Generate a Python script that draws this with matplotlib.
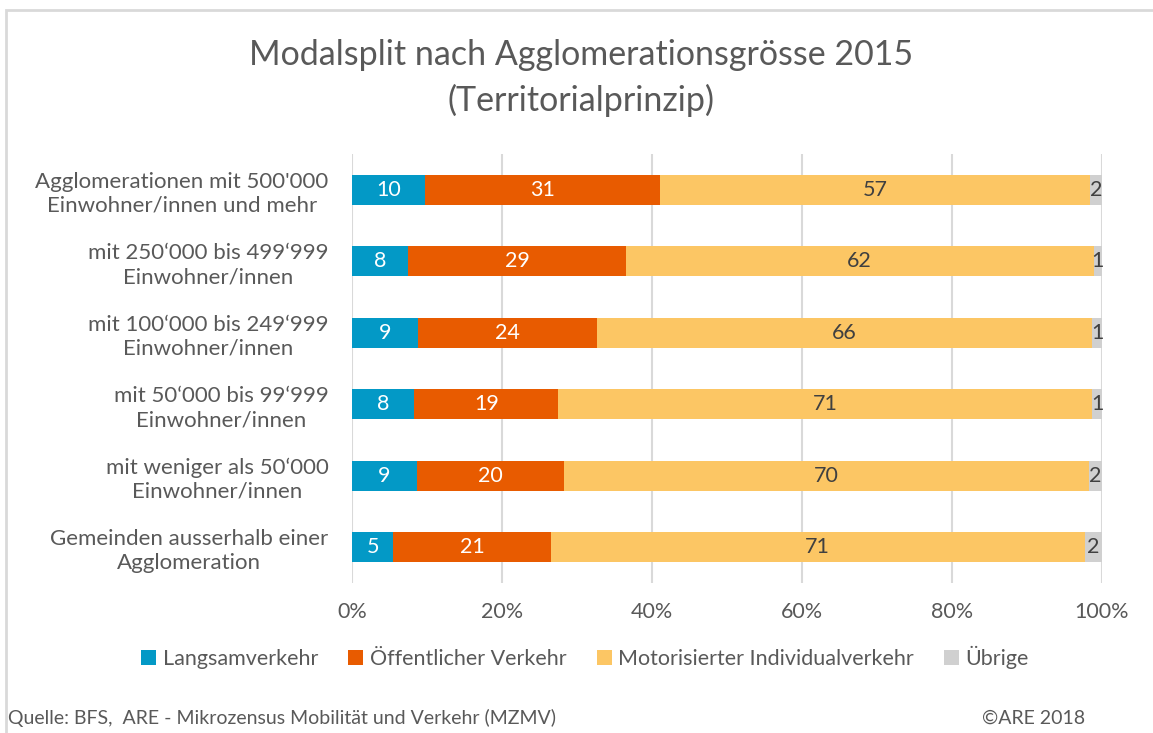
import numpy as np
import matplotlib.pyplot as plt
from matplotlib.patches import Rectangle

plt.rcParams['font.family'] = ['Lato', 'DejaVu Sans']

categories = ["Agglomerationen mit 500'000\nEinwohner/innen und mehr",
              "mit 250‘000 bis 499‘999\nEinwohner/innen",
              "mit 100‘000 bis 249‘999\nEinwohner/innen",
              "mit 50‘000 bis 99‘999\nEinwohner/innen",
              "mit weniger als 50‘000\nEinwohner/innen",
              "Gemeinden ausserhalb einer\nAgglomeration"]
series = ["Langsamverkehr", "Öffentlicher Verkehr", "Motorisierter Individualverkehr", "Übrige"]
langsam = [9.7, 7.5, 8.8, 8.3, 8.6, 5.5]
oev = [31.4, 29.0, 23.8, 19.2, 19.7, 21.0]
miv = [57.3, 62.4, 66.1, 71.2, 70.0, 71.2]
uebrige = [1.6, 1.1, 1.4, 1.3, 1.7, 2.3]
labels = [[10, 8, 9, 8, 9, 5],
          [31, 29, 24, 19, 20, 21],
          [57, 62, 66, 71, 70, 71],
          [2, 1, 1, 1, 2, 2]]
colors = ['#0399C6', '#E85B00', '#FCC664', '#D0D0D0']
textcols = ['white', 'white', '#404040', '#404040']
grey = '#595959'

fig = plt.figure(figsize=(11.53, 7.33), dpi=100)
W, H = 1153, 733
ax = fig.add_axes([352/W, 1-583/H, 750/W, 429/H])

y = np.arange(len(categories))
left = np.zeros(len(categories))
for i, vals in enumerate([langsam, oev, miv, uebrige]):
    vals = np.array(vals)
    ax.barh(y, vals, left=left, height=0.42, color=colors[i], label=series[i], zorder=3)
    for j in range(len(y)):
        ax.text(left[j] + vals[j]/2, y[j], str(labels[i][j]), ha='center', va='center',
                color=textcols[i], fontsize=15.5, zorder=4)
    left += vals

ax.set_ylim(len(categories)-0.5, -0.5)
ax.set_xlim(0, 100)
ax.set_xticks(np.arange(0, 101, 20))
ax.set_xticklabels([f"{v}%" for v in range(0, 101, 20)])
ax.set_yticks(y)
ax.set_yticklabels(categories, multialignment='center', linespacing=1.25)
ax.tick_params(axis='y', length=0, pad=17, labelsize=16, labelcolor=grey)
ax.tick_params(axis='x', length=0, pad=14, labelsize=15.5, labelcolor=grey)
ax.grid(axis='x', color='#D9D9D9', linewidth=1.5, zorder=0)
for s in ax.spines.values():
    s.set_visible(False)

fig.text(581/W, 1-55/H, "Modalsplit nach Agglomerationsgrösse 2015", ha='center', va='center',
         fontsize=24.5, color=grey)
fig.text(581/W, 1-100/H, "(Territorialprinzip)", ha='center', va='center', fontsize=24.5, color=grey)

ax.legend(loc='center', bbox_to_anchor=(585/W, 1-657/H), bbox_transform=fig.transFigure,
          ncol=4, frameon=False, fontsize=15.5, handlelength=0.7, handleheight=0.7,
          handletextpad=0.3, columnspacing=1.4, labelcolor=grey)

fig.text(8/W, 1-718/H, "Quelle: BFS,  ARE - Mikrozensus Mobilität und Verkehr (MZMV)", ha='left',
         va='center', fontsize=14, color=grey)
fig.text(1085/W, 1-718/H, "©ARE 2018", ha='right', va='center', fontsize=14, color=grey)

fig.patches.append(Rectangle((6/W, -0.1), 1.2, 1-10/H+0.1, transform=fig.transFigure,
                             fill=False, edgecolor='#D9D9D9', linewidth=2))

fig.savefig('out.png', dpi=100)
